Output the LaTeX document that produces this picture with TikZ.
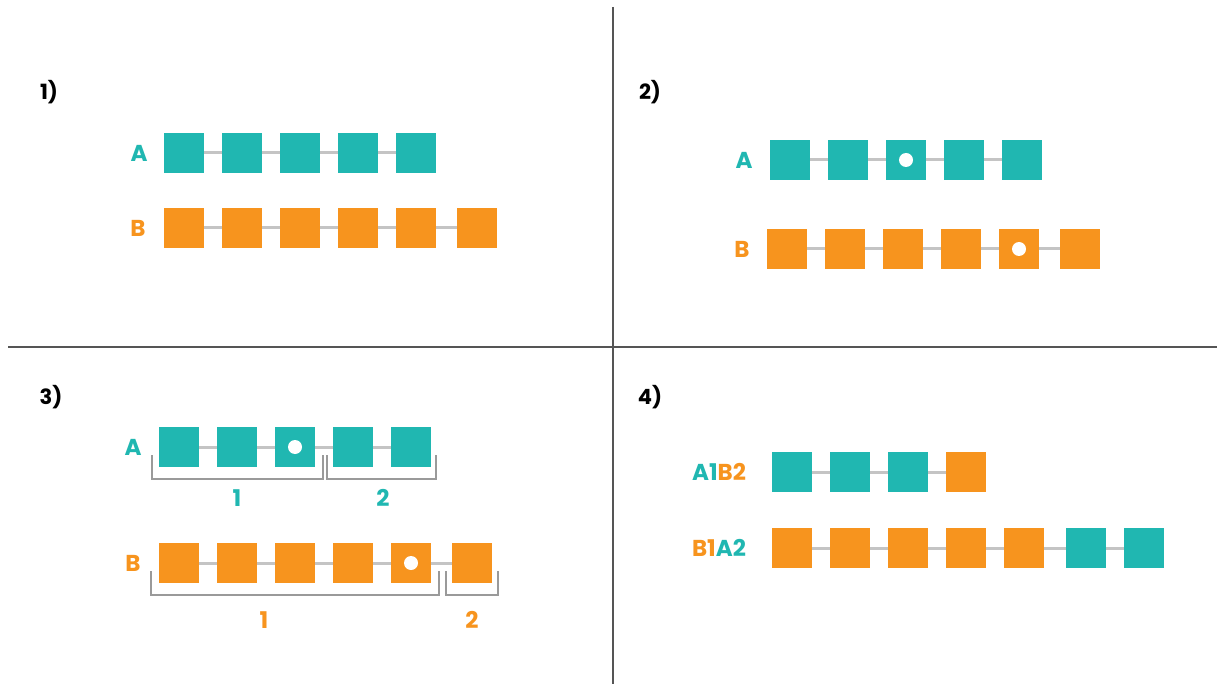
\documentclass[tikz,border=0pt]{standalone}
\usepackage{fontspec}
\setmainfont{Poppins}
\begin{document}
\begin{tikzpicture}[x=1pt,y=-1pt,
  sq/.style={minimum size=40pt,inner sep=0pt,outer sep=0pt},
  tsq/.style={sq,fill=teal1},
  osq/.style={sq,fill=orange1},
  dot/.style={circle,fill=white,minimum size=14pt,inner sep=0pt},
  link/.style={draw=linkgray,line width=3pt},
  brk/.style={draw=brkgray,line width=2pt},
  lab/.style={font=\fontsize{23}{25}\selectfont\bfseries,inner sep=0pt},
  num/.style={font=\fontsize{21}{23}\selectfont\bfseries,inner sep=0pt,text=black}]
\definecolor{teal1}{HTML}{20B7B1}
\definecolor{orange1}{HTML}{F7941E}
\definecolor{linkgray}{HTML}{C4C4C4}
\definecolor{brkgray}{HTML}{9A9A9A}
\definecolor{divgray}{HTML}{555555}
\useasboundingbox[fill=white] (0,0) rectangle (1217,684);
% dividers
\coordinate (vt) at (613,7);
\coordinate (vb) at (613,684);
\coordinate (hl) at (8,347);
\coordinate (hr) at (1217,347);
\draw[divgray,line width=1.2pt] (vt) -- (vb);
\draw[divgray,line width=1.2pt] (hl) -- (hr);
% ---------- panel 1
\node[num] (n1) at (49,92) {1)};
\node[lab,text=teal1] (l1a) at (139,153) {A};
\node[lab,text=orange1] (l1b) at (138,228) {B};
\foreach \i/\x in {1/164,2/222,3/280,4/338,5/396}
  \node[tsq,anchor=north west] (p1a\i) at (\x,133) {};
\foreach \i/\x in {1/164,2/222,3/280,4/338,5/396,6/457}
  \node[osq,anchor=north west] (p1b\i) at (\x,208) {};
\foreach \i/\j in {1/2,2/3,3/4,4/5} \draw[link] (p1a\i) -- (p1a\j);
\foreach \i/\j in {1/2,2/3,3/4,4/5,5/6} \draw[link] (p1b\i) -- (p1b\j);
% ---------- panel 2
\node[num] (n2) at (650,92) {2)};
\node[lab,text=teal1] (l2a) at (744,160) {A};
\node[lab,text=orange1] (l2b) at (742,249) {B};
\foreach \i/\x in {1/770,2/828,3/886,4/944,5/1002}
  \node[tsq,anchor=north west] (p2a\i) at (\x,140) {};
\foreach \i/\x in {1/767,2/825,3/883,4/941,5/999,6/1060}
  \node[osq,anchor=north west] (p2b\i) at (\x,229) {};
\foreach \i/\j in {1/2,2/3,3/4,4/5} \draw[link] (p2a\i) -- (p2a\j);
\foreach \i/\j in {1/2,2/3,3/4,4/5,5/6} \draw[link] (p2b\i) -- (p2b\j);
\node[dot] (d2a) at (p2a3) {};
\node[dot] (d2b) at (p2b5) {};
% ---------- panel 3
\node[num] (n3) at (51,397) {3)};
\node[lab,text=teal1] (l3a) at (133,447) {A};
\node[lab,text=orange1] (l3b) at (133,563) {B};
\foreach \i/\x in {1/159,2/217,3/275,4/333,5/391}
  \node[tsq,anchor=north west] (p3a\i) at (\x,427) {};
\foreach \i/\x in {1/159,2/217,3/275,4/333,5/391,6/452}
  \node[osq,anchor=north west] (p3b\i) at (\x,543) {};
\foreach \i/\j in {1/2,2/3,3/4,4/5} \draw[link] (p3a\i) -- (p3a\j);
\foreach \i/\j in {1/2,2/3,3/4,4/5,5/6} \draw[link] (p3b\i) -- (p3b\j);
\node[dot] (d3a) at (p3a3) {};
\node[dot] (d3b) at (p3b5) {};
\draw[brk] ([shift={(-7pt,12pt)}]p3a1.south west) -- ++(0,24) -| ([shift={(8pt,12pt)}]p3a3.south east);
\draw[brk] ([shift={(-6pt,12pt)}]p3a4.south west) -- ++(0,24) -| ([shift={(5pt,12pt)}]p3a5.south east);
\draw[brk] ([shift={(-8pt,12pt)}]p3b1.south west) -- ++(0,24) -| ([shift={(8pt,12pt)}]p3b5.south east);
\draw[brk] ([shift={(-6pt,12pt)}]p3b6.south west) -- ++(0,24) -| ([shift={(6pt,12pt)}]p3b6.south east);
\node[lab,text=teal1] (g3a1) at (237,498) {1};
\node[lab,text=teal1] (g3a2) at (383,498) {2};
\node[lab,text=orange1] (g3b1) at (264,620) {1};
\node[lab,text=orange1] (g3b2) at (472,620) {2};
% ---------- panel 4
\node[num] (n4) at (650,397) {4)};
\node[lab] (l4a) at (719,472) {\textcolor{teal1}{A1}\textcolor{orange1}{B2}};
\node[lab] (l4b) at (719,548) {\textcolor{orange1}{B1}\textcolor{teal1}{A2}};
\foreach \i/\x in {1/772,2/830,3/888}
  \node[tsq,anchor=north west] (p4a\i) at (\x,452) {};
\node[osq,anchor=north west] (p4a4) at (946,452) {};
\foreach \i/\x in {1/772,2/830,3/888,4/946,5/1004}
  \node[osq,anchor=north west] (p4b\i) at (\x,528) {};
\foreach \i/\x in {6/1066,7/1124}
  \node[tsq,anchor=north west] (p4b\i) at (\x,528) {};
\foreach \i/\j in {1/2,2/3,3/4} \draw[link] (p4a\i) -- (p4a\j);
\foreach \i/\j in {1/2,2/3,3/4,4/5,5/6,6/7} \draw[link] (p4b\i) -- (p4b\j);
\end{tikzpicture}
\end{document}
